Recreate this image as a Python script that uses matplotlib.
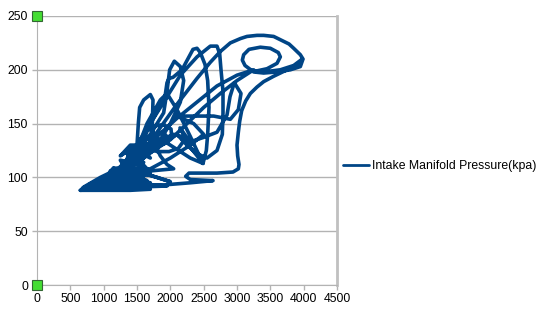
import matplotlib
matplotlib.use('Agg')
import matplotlib.pyplot as plt


# engine speed (rpm) and manifold pressure (kPa) in order
rpm = [
    650, 1000, 1400, 1700, 1300, 900, 680, 750, 1100, 1500, 1950, 1500, 1050, 850,
    700, 1200, 1600, 1100, 800, 1300, 1700, 1250, 1000, 1400, 1600, 1300, 1150,
    1000, 1300, 1650, 1350, 1100, 1200, 1450, 1800, 2000, 1600, 1300, 1250,
    1400, 1650, 1500, 1350, 1450, 1700, 1550, 1350, 1250, 1400,
    1500, 1520, 1540, 1600, 1700, 1740, 1730, 1760, 1850, 1950, 2050,
    1700, 1400, 1200, 1050, 1250,
    1450, 1600, 1750, 1900, 2050, 2170, 2190, 2120, 1980, 1800, 1650, 1600, 1650, 1780, 1900, 2010, 2020, 1950, 1830, 1760, 1780, 1880, 1950, 1900, 1700, 1450, 1300,
    1400, 1550, 1700, 1800, 1850, 1800, 1700, 1600, 1500,
    1500, 1700, 1920, 1950, 1980, 2040, 2175, 2340, 2400, 2450, 2520, 2560, 2580, 2560, 2540, 2490,
    2300, 2100, 1950, 1800, 1600, 1400, 1250,
    1400, 1650, 1900, 2150, 2400, 2600, 2700, 2740, 2760, 2790, 2790, 2780, 2700, 2550, 2400, 2250, 2100, 1900, 1600, 1350,
    1500, 1800, 2100, 2400, 2600, 2750, 2900, 3050, 3150, 3300, 3400, 3550, 3650, 3780, 3850, 3950, 3990,
    3950, 3800, 3600, 3400, 3250, 3120, 3080, 3100, 3180, 3350, 3500, 3620, 3650, 3600, 3450, 3300, 3200,
    3400, 3650, 3850, 3980,
    3900, 3750, 3550, 3400, 3300, 3200, 3130, 3070, 3040, 3020, 3000, 3010, 3030, 3020, 2940, 2700, 2450, 2280, 2230, 2300, 2640,
    2300, 1900, 1500, 1200, 1000,
    1200, 1500, 1800, 2100, 2400, 2700, 3000, 3250,
    3000, 2750, 2500, 2250, 2000, 1750, 1500, 1300,
    1500, 1700, 1900, 1950, 1990, 2060, 2150, 2200, 2150, 2000, 1800, 1600, 1400,
    1650, 1850, 1950, 2100, 2300, 2490,
    2300, 2145, 2295, 2490, 2700, 2850, 2895, 2960, 3060, 3020, 2900, 2650, 2500, 2300, 2100, 2350, 2500, 2300, 2000, 1700,
    1200, 1000, 800, 700, 1100, 1500, 1300, 1100, 1350, 1600, 1250, 950, 700,
    900, 1200, 1500, 1700, 1400, 1150, 1300, 1550, 1350, 1100, 850, 650,
]
kpa = [
    88, 88, 88, 89, 90, 89, 90, 92, 93, 91, 92, 94, 96, 95,
    89, 91, 93, 95, 92, 97, 95, 99, 100, 103, 101, 106, 109,
    98, 100, 97, 102, 104, 108, 106, 100, 96, 104, 111, 116,
    114, 108, 118, 122, 126, 118, 128, 124, 120, 130,
    130, 150, 165, 172, 177, 172, 150, 132, 120, 112, 108,
    106, 104, 100, 98, 103,
    118, 126, 132, 136, 140, 138, 133, 127, 124, 124, 128, 135, 143, 148, 149, 145, 138, 133, 132, 135, 140, 142, 138, 134, 126, 115, 108,
    126, 133, 137, 137, 134, 130, 129, 131, 122,
    125, 150, 175, 188, 192, 193, 200, 219, 220, 216, 205, 190, 165, 140, 125, 113,
    118, 126, 132, 130, 124, 116, 110,
    120, 145, 170, 195, 212, 222, 222, 215, 200, 180, 160, 140, 125, 118, 122, 130, 140, 132, 118, 108,
    118, 142, 168, 192, 207, 217, 225, 229, 231, 232, 232, 231, 228, 224, 220, 214, 210,
    203, 200, 198, 197, 198, 204, 209, 214, 219, 221, 220, 216, 212, 206, 201, 199, 199,
    198, 200, 204, 210,
    205, 200, 194, 189, 184, 178, 171, 162, 152, 142, 130, 120, 112, 108, 105, 104, 104, 104, 101, 98, 97,
    95, 93, 92, 94, 96,
    104, 120, 138, 155, 170, 185, 195, 200,
    190, 178, 165, 150, 135, 125, 116, 108,
    125, 140, 160, 180, 200, 208, 203, 190, 170, 150, 130, 118, 110,
    150, 172, 178, 163, 138, 113,
    128, 146, 133, 137, 142, 158, 175, 188, 178, 163, 154, 157, 157, 157, 157, 150, 140, 130, 118, 108,
    104, 99, 94, 90, 92, 96, 102, 106, 112, 114, 109, 100, 91,
    93, 97, 99, 104, 110, 104, 100, 96, 92, 90, 89, 88,
]

series_name = 'Intake Manifold Pressure(kpa)'
x_ticks = [0, 500, 1000, 1500, 2000, 2500, 3000, 3500, 4000, 4500]
y_ticks = [0, 50, 100, 150, 200, 250]

plt.rcParams['font.family'] = ['Liberation Sans', 'DejaVu Sans']

fig = plt.figure(figsize=(5.45, 3.17), dpi=100)
ax = fig.add_axes([37 / 545, 32 / 317, 300 / 545, 269 / 317])

ax.plot(rpm, kpa, color='#004586', lw=2.6, solid_joinstyle='round',
        solid_capstyle='round', label=series_name)

ax.set_xlim(0, 4500)
ax.set_ylim(0, 250)
ax.set_xticks(x_ticks)
ax.set_yticks(y_ticks)
ax.tick_params(labelsize=8.8, color='#b3b3b3', length=3.5, width=1)
ax.tick_params(axis='y', pad=3)
ax.tick_params(axis='x', pad=2)
ax.yaxis.grid(True, color='#b3b3b3', lw=1)
ax.set_axisbelow(True)
for side in ['left', 'bottom']:
    ax.spines[side].set_color('#b3b3b3')
ax.spines['right'].set_color('#c0c0c0')
ax.spines['right'].set_linewidth(2)
ax.spines['top'].set_visible(False)

# selection handles at the axis ends
ax.plot([0, 0], [0, 250], ls='none', marker='s', ms=6.5, mfc='#44dd33',
        mec='#336633', mew=0.8, clip_on=False, zorder=5)

ax.legend(loc='center left', bbox_to_anchor=(343 / 545, 1 - 166 / 317),
          bbox_transform=fig.transFigure, frameon=False, fontsize=8.8,
          handlelength=2.1, handletextpad=0.3, borderpad=0, borderaxespad=0)
leg = ax.get_legend()
leg.get_lines()[0].set_linewidth(2)

fig.savefig('out.png', dpi=100)
